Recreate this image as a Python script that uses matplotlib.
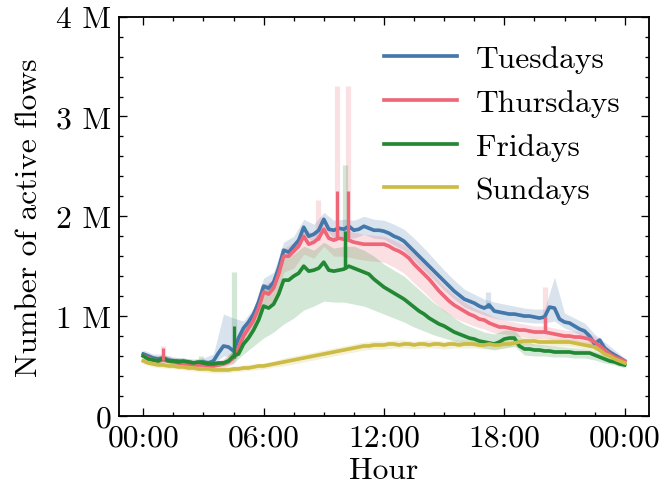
import numpy as np
import matplotlib
matplotlib.use("Agg")
import matplotlib.pyplot as plt
from matplotlib.ticker import FixedLocator, MultipleLocator, FuncFormatter

# time grids (hours)
hours = np.arange(0, 24.01, 0.25)
band_hours = np.arange(0, 24.01, 0.5)

# mean number of active flows, millions, every 15 min
tuesdays = [0.62, 0.60, 0.58, 0.57, 0.58, 0.56, 0.55, 0.55, 0.54, 0.54, 0.53, 0.53,
            0.54, 0.53, 0.55, 0.63, 0.70, 0.69, 0.65, 0.78, 0.88, 0.94, 1.02, 1.14,
            1.30, 1.28, 1.34, 1.48, 1.66, 1.64, 1.70, 1.76, 1.89, 1.80, 1.82, 1.86,
            1.97, 1.87, 1.86, 1.88, 1.87, 1.90, 1.86, 1.87, 1.90, 1.88, 1.86, 1.86,
            1.85, 1.83, 1.80, 1.78, 1.75, 1.70, 1.65, 1.60, 1.55, 1.50, 1.45, 1.40,
            1.35, 1.30, 1.25, 1.21, 1.17, 1.15, 1.13, 1.10, 1.08, 1.11, 1.05, 1.04,
            1.03, 1.02, 1.02, 1.01, 1.00, 1.00, 0.99, 0.98, 0.99, 1.09, 1.08, 0.97,
            0.94, 0.93, 0.90, 0.87, 0.85, 0.80, 0.72, 0.76, 0.68, 0.64, 0.61, 0.58,
            0.55]
thursdays = [0.60, 0.58, 0.56, 0.55, 0.56, 0.55, 0.54, 0.53, 0.52, 0.52, 0.51, 0.51,
             0.51, 0.50, 0.50, 0.51, 0.52, 0.54, 0.58, 0.68, 0.80, 0.88, 0.96, 1.08,
             1.24, 1.22, 1.28, 1.42, 1.60, 1.60, 1.65, 1.70, 1.80, 1.72, 1.74, 1.78,
             1.87, 1.78, 1.76, 1.78, 1.77, 1.76, 1.74, 1.73, 1.72, 1.72, 1.72, 1.72,
             1.72, 1.70, 1.67, 1.65, 1.62, 1.58, 1.52, 1.47, 1.42, 1.37, 1.31, 1.25,
             1.20, 1.15, 1.11, 1.08, 1.05, 1.02, 1.00, 0.97, 0.96, 0.93, 0.91, 0.89,
             0.89, 0.88, 0.87, 0.86, 0.86, 0.85, 0.84, 0.84, 0.84, 0.83, 0.82, 0.81,
             0.80, 0.80, 0.79, 0.79, 0.78, 0.77, 0.74, 0.70, 0.66, 0.62, 0.59, 0.57,
             0.55]
fridays = [0.60, 0.57, 0.56, 0.55, 0.58, 0.55, 0.55, 0.54, 0.55, 0.54, 0.53, 0.54,
           0.53, 0.52, 0.52, 0.53, 0.53, 0.55, 0.60, 0.62, 0.72, 0.78, 0.86, 0.96,
           1.10, 1.08, 1.12, 1.22, 1.36, 1.36, 1.40, 1.43, 1.50, 1.45, 1.46, 1.48,
           1.54, 1.46, 1.45, 1.46, 1.47, 1.50, 1.48, 1.46, 1.44, 1.42, 1.37, 1.33,
           1.29, 1.26, 1.23, 1.20, 1.17, 1.13, 1.09, 1.05, 1.02, 0.98, 0.95, 0.92,
           0.90, 0.87, 0.84, 0.82, 0.80, 0.78, 0.77, 0.75, 0.74, 0.73, 0.72, 0.74,
           0.77, 0.78, 0.78, 0.70, 0.67, 0.67, 0.66, 0.66, 0.65, 0.65, 0.64, 0.64,
           0.64, 0.64, 0.63, 0.63, 0.63, 0.63, 0.61, 0.59, 0.57, 0.55, 0.54, 0.52,
           0.51]
sundays = [0.55, 0.53, 0.52, 0.51, 0.51, 0.50, 0.50, 0.49, 0.49, 0.48, 0.48, 0.47,
           0.47, 0.47, 0.46, 0.46, 0.46, 0.46, 0.47, 0.47, 0.48, 0.48, 0.49, 0.50,
           0.50, 0.51, 0.52, 0.53, 0.54, 0.55, 0.56, 0.57, 0.58, 0.59, 0.60, 0.61,
           0.62, 0.63, 0.64, 0.65, 0.66, 0.67, 0.68, 0.69, 0.70, 0.70, 0.71, 0.71,
           0.71, 0.72, 0.72, 0.71, 0.72, 0.72, 0.71, 0.72, 0.72, 0.71, 0.72, 0.72,
           0.71, 0.72, 0.72, 0.71, 0.72, 0.72, 0.72, 0.71, 0.71, 0.72, 0.71, 0.71,
           0.72, 0.72, 0.73, 0.74, 0.75, 0.75, 0.75, 0.74, 0.74, 0.74, 0.74, 0.74,
           0.74, 0.74, 0.73, 0.72, 0.71, 0.70, 0.69, 0.66, 0.62, 0.60, 0.57, 0.55,
           0.53]

# spread bands (lower / upper), every 30 min
tue_low = [0.58, 0.55, 0.55, 0.52, 0.51, 0.50, 0.51, 0.52, 0.60, 0.60, 0.80, 0.92, 1.22,
           1.28, 1.58, 1.64, 1.81, 1.74, 1.89, 1.78, 1.79, 1.78, 1.82, 1.78, 1.77, 1.71,
           1.66, 1.56, 1.46, 1.36, 1.26, 1.17, 1.09, 1.05, 1.01, 0.98, 0.96, 0.95, 0.94,
           0.93, 0.93, 0.95, 0.88, 0.84, 0.79, 0.66, 0.62, 0.57, 0.52]
tue_high = [0.66, 0.62, 0.62, 0.59, 0.58, 0.57, 0.58, 0.62, 1.02, 0.98, 0.95, 1.08, 1.38,
            1.44, 1.74, 1.80, 1.97, 1.92, 2.04, 1.96, 1.97, 1.96, 2.00, 1.97, 1.96, 1.92,
            1.87, 1.78, 1.68, 1.57, 1.46, 1.36, 1.27, 1.22, 1.17, 1.14, 1.12, 1.10, 1.08,
            1.07, 1.07, 1.39, 1.03, 0.98, 0.93, 0.82, 0.74, 0.66, 0.58]
thu_low = [0.56, 0.52, 0.52, 0.50, 0.48, 0.47, 0.47, 0.46, 0.48, 0.52, 0.72, 0.86, 1.10,
           1.14, 1.44, 1.48, 1.62, 1.58, 1.70, 1.60, 1.60, 1.58, 1.56, 1.55, 1.54, 1.49,
           1.43, 1.33, 1.24, 1.14, 1.05, 0.98, 0.94, 0.90, 0.87, 0.83, 0.82, 0.80, 0.79,
           0.78, 0.78, 0.76, 0.74, 0.73, 0.72, 0.69, 0.62, 0.56, 0.52]
thu_high = [0.64, 0.60, 0.60, 0.58, 0.56, 0.55, 0.55, 0.54, 0.57, 0.66, 0.88, 1.04, 1.32,
            1.36, 1.68, 1.74, 1.88, 1.82, 1.95, 1.86, 1.86, 1.84, 1.82, 1.81, 1.80, 1.76,
            1.71, 1.62, 1.52, 1.41, 1.30, 1.21, 1.14, 1.08, 1.04, 0.99, 0.96, 0.94, 0.92,
            0.90, 0.90, 0.88, 0.86, 0.85, 0.84, 0.80, 0.71, 0.63, 0.58]
fri_low = [0.57, 0.53, 0.54, 0.52, 0.52, 0.50, 0.50, 0.49, 0.50, 0.53, 0.62, 0.70, 0.78,
           0.84, 0.92, 0.98, 1.06, 1.10, 1.15, 1.14, 1.14, 1.12, 1.10, 1.06, 1.02, 0.98,
           0.94, 0.89, 0.85, 0.81, 0.78, 0.75, 0.72, 0.70, 0.68, 0.66, 0.68, 0.70, 0.61,
           0.60, 0.60, 0.59, 0.59, 0.58, 0.58, 0.56, 0.53, 0.51, 0.48]
fri_high = [0.63, 0.59, 0.61, 0.58, 0.58, 0.56, 0.57, 0.55, 0.56, 0.66, 0.84, 1.00, 1.28,
            1.32, 1.58, 1.62, 1.70, 1.66, 1.74, 1.68, 1.70, 1.70, 1.66, 1.60, 1.52, 1.46,
            1.40, 1.31, 1.22, 1.13, 1.06, 0.98, 0.92, 0.88, 0.84, 0.82, 0.86, 0.86, 0.75,
            0.72, 0.71, 0.70, 0.69, 0.68, 0.67, 0.65, 0.61, 0.58, 0.54]
sun_low = [0.52, 0.49, 0.48, 0.47, 0.46, 0.45, 0.44, 0.43, 0.43, 0.44, 0.45, 0.46, 0.47,
           0.49, 0.50, 0.52, 0.54, 0.56, 0.58, 0.60, 0.62, 0.64, 0.66, 0.67, 0.67, 0.68,
           0.68, 0.67, 0.68, 0.68, 0.67, 0.68, 0.68, 0.68, 0.67, 0.67, 0.68, 0.69, 0.71,
           0.71, 0.70, 0.70, 0.70, 0.69, 0.67, 0.65, 0.59, 0.54, 0.50]
sun_high = [0.58, 0.55, 0.54, 0.53, 0.52, 0.51, 0.50, 0.49, 0.49, 0.50, 0.51, 0.52, 0.53,
            0.55, 0.58, 0.60, 0.62, 0.64, 0.66, 0.68, 0.70, 0.72, 0.74, 0.75, 0.75, 0.76,
            0.76, 0.75, 0.76, 0.76, 0.75, 0.76, 0.76, 0.76, 0.75, 0.75, 0.76, 0.77, 0.79,
            0.79, 0.78, 0.78, 0.78, 0.77, 0.75, 0.73, 0.66, 0.60, 0.56]

# short one-off spikes: hour, base, line top, band top
thu_spike_hours = [0.98, 8.70, 9.66, 10.22, 20.05]
thu_spike_base = [0.56, 1.76, 1.77, 1.76, 0.84]
thu_spike_line = [0.68, 1.80, 2.25, 2.25, 0.99]
thu_spike_band = [0.70, 2.16, 3.31, 3.31, 1.29]
fri_spike_hours = [2.90, 4.50, 10.06]
fri_spike_base = [0.54, 0.58, 1.47]
fri_spike_line = [0.56, 0.90, 1.85]
fri_spike_band = [0.60, 1.44, 2.51]
tue_spike_hours = [17.20]
tue_spike_base = [1.08]
tue_spike_line = [1.13]
tue_spike_band = [1.24]

labels = ["Tuesdays", "Thursdays", "Fridays", "Sundays"]
colors = ["#4477AA", "#EE6677", "#228833", "#CCBB44"]

plt.rcParams["font.family"] = "cmr10"
plt.rcParams["mathtext.fontset"] = "cm"
plt.rcParams["axes.formatter.use_mathtext"] = True
plt.rcParams["font.size"] = 12

fig = plt.figure(figsize=(662 / 189, 491 / 189), dpi=189)
ax = fig.add_axes([0.180, 0.151, 0.800, 0.813])

means = [tuesdays, thursdays, fridays, sundays]
lows = [tue_low, thu_low, fri_low, sun_low]
highs = [tue_high, thu_high, fri_high, sun_high]
M = 1e6

for lo, hi, c in zip(lows, highs, colors):
    ax.fill_between(band_hours, np.array(lo) * M, np.array(hi) * M, color=c, alpha=0.2, lw=0)

spikes = [(tue_spike_hours, tue_spike_base, tue_spike_line, tue_spike_band, colors[0]),
          (thu_spike_hours, thu_spike_base, thu_spike_line, thu_spike_band, colors[1]),
          (fri_spike_hours, fri_spike_base, fri_spike_line, fri_spike_band, colors[2])]
for sh, sb, sl, sbd, c in spikes:
    ax.vlines(sh, np.array(sb) * M, np.array(sbd) * M, color=c, alpha=0.2, lw=2.0)

for m, c, lab in zip(means, colors, labels):
    ax.plot(hours, np.array(m) * M, color=c, lw=1.4, label=lab)

for sh, sb, sl, sbd, c in spikes:
    ax.vlines(sh, np.array(sb) * M, np.array(sl) * M, color=c, lw=1.2)

ax.set_ylim(0, 4e6)
ax.xaxis.set_major_locator(FixedLocator([0, 6, 12, 18, 24]))
ax.xaxis.set_minor_locator(MultipleLocator(1.5))
ax.xaxis.set_major_formatter(FuncFormatter(lambda v, p: "%02d:00" % (int(round(v)) % 24)))
ax.yaxis.set_major_locator(MultipleLocator(1e6))
ax.yaxis.set_minor_locator(MultipleLocator(2e5))
ax.yaxis.set_major_formatter(FuncFormatter(lambda v, p: "0" if v == 0 else "%d M" % round(v / 1e6)))

ax.tick_params(which="both", direction="in", top=True, right=True, width=0.5)
ax.tick_params(which="major", length=3, pad=3)
ax.tick_params(which="minor", length=1.5)
for s in ax.spines.values():
    s.set_linewidth(0.7)

ax.set_xlabel("Hour", labelpad=2)
ax.set_ylabel("Number of active flows", labelpad=5)
ax.legend(loc="upper right", frameon=False, handlelength=2.3, handletextpad=0.6)

fig.savefig("out.png", dpi=189)
